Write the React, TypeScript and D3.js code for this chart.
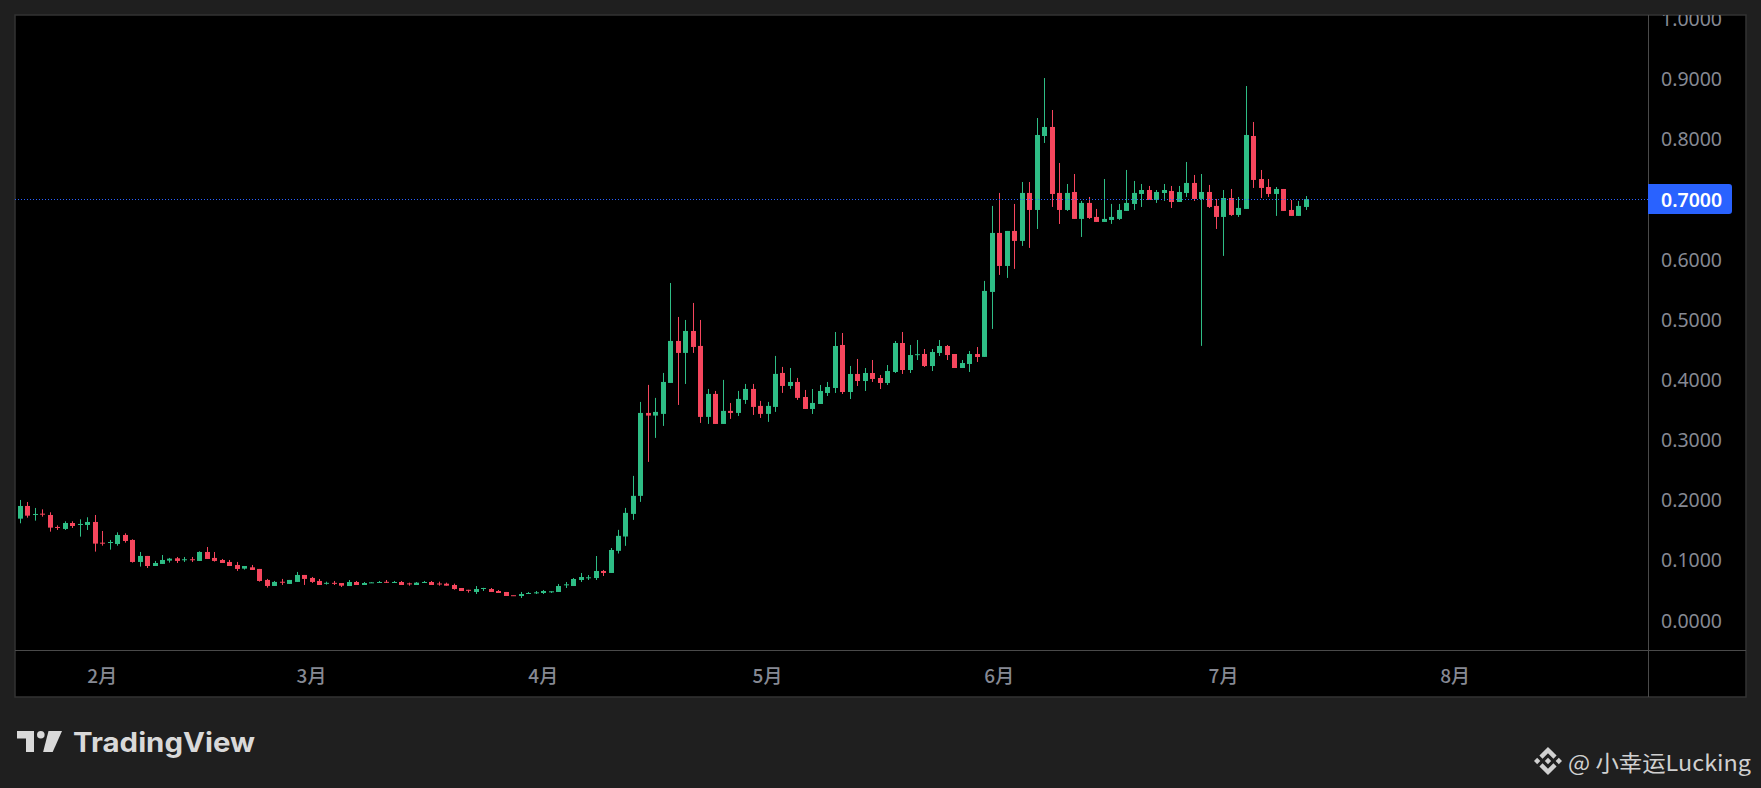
import React from "react";
import * as d3 from "d3";

// daily candles, first bar 2025-01-21
const opens = [
  0.1685, 0.1896, 0.1757, 0.1768, 0.1746, 0.1547, 0.1514, 0.1613, 0.158, 0.158,
  0.163, 0.1286, 0.1286, 0.1264, 0.1414, 0.1331, 0.0965, 0.1065, 0.0898, 0.0932,
  0.0987, 0.1026, 0.1006, 0.101, 0.0982, 0.1131, 0.1032, 0.0998, 0.0965, 0.0915,
  0.0854, 0.0876, 0.0849, 0.0666, 0.0566, 0.0636, 0.06, 0.0633, 0.0749, 0.0699,
  0.0649, 0.0612, 0.0618, 0.0615, 0.0565, 0.0632, 0.0582, 0.062, 0.0626, 0.0635,
  0.0626, 0.0632, 0.0609, 0.0582, 0.0626, 0.0632, 0.0607, 0.0604, 0.0582, 0.0532,
  0.0502, 0.0466, 0.053, 0.0515, 0.0482, 0.0466, 0.0412, 0.0399, 0.0446, 0.0455,
  0.0449, 0.0475, 0.0466, 0.059, 0.0565, 0.0665, 0.0706, 0.0698, 0.0815, 0.0782,
  0.115, 0.1388, 0.1764, 0.2064, 0.3443, 0.3399, 0.3427, 0.3942, 0.464, 0.4441,
  0.4806, 0.4557, 0.3377, 0.3759, 0.326, 0.3477, 0.3443, 0.3659, 0.3842, 0.356,
  0.3427, 0.3543, 0.4108, 0.3892, 0.3958, 0.3708, 0.3509, 0.3592, 0.3775, 0.3858,
  0.4573, 0.3791, 0.4091, 0.3974, 0.4107, 0.4024, 0.3941, 0.4124, 0.4606, 0.4157,
  0.4414, 0.4423, 0.4223, 0.444, 0.4556, 0.4423, 0.419, 0.4257, 0.4423, 0.4375,
  0.5455, 0.6436, 0.5887, 0.6469, 0.6303, 0.7101, 0.6818, 0.8048, 0.8198, 0.7101,
  0.6818, 0.7117, 0.6669, 0.6935, 0.6702, 0.6619, 0.6652, 0.6669, 0.6802, 0.6918,
  0.7084, 0.715, 0.6984, 0.71, 0.7134, 0.6951, 0.71, 0.7267, 0.7001, 0.7117,
  0.6885, 0.6702, 0.7017, 0.6735, 0.6835, 0.8048, 0.7333, 0.72, 0.7084, 0.7167,
  0.6818, 0.6719, 0.6868,
];
const highs = [
  0.1996, 0.1962, 0.1863, 0.184, 0.1791, 0.1574, 0.1641, 0.1641, 0.1674, 0.1708,
  0.1746, 0.148, 0.1331, 0.1458, 0.1441, 0.1342, 0.1131, 0.1065, 0.0982, 0.1081,
  0.1032, 0.1048, 0.1048, 0.1048, 0.1142, 0.1214, 0.1131, 0.1015, 0.0998, 0.0965,
  0.0898, 0.0915, 0.0849, 0.0683, 0.0649, 0.0683, 0.0666, 0.0799, 0.0749, 0.0716,
  0.0682, 0.0637, 0.0649, 0.0615, 0.0665, 0.0649, 0.0632, 0.063, 0.0649, 0.0665,
  0.0649, 0.0649, 0.0621, 0.0632, 0.0649, 0.0649, 0.0637, 0.0621, 0.0604, 0.0532,
  0.0502, 0.0565, 0.0535, 0.0532, 0.0499, 0.0466, 0.0412, 0.0466, 0.0466, 0.0482,
  0.0499, 0.0477, 0.0599, 0.0632, 0.0698, 0.0782, 0.0748, 0.1064, 0.0832, 0.1197,
  0.1499, 0.1864, 0.2396, 0.3626, 0.3909, 0.3693, 0.4108, 0.5604, 0.5039, 0.4989,
  0.5272, 0.4989, 0.3842, 0.3809, 0.3992, 0.3609, 0.3809, 0.3925, 0.3925, 0.3643,
  0.3626, 0.4391, 0.4208, 0.4191, 0.4025, 0.3825, 0.3841, 0.3908, 0.3958, 0.4789,
  0.4772, 0.4224, 0.434, 0.419, 0.4323, 0.4074, 0.424, 0.4639, 0.4789, 0.4573,
  0.4656, 0.4506, 0.4506, 0.4656, 0.4573, 0.4423, 0.4323, 0.4473, 0.4539, 0.5638,
  0.6885, 0.7101, 0.6469, 0.6918, 0.7283, 0.7283, 0.8347, 0.9012, 0.848, 0.7599,
  0.725, 0.7416, 0.6968, 0.7034, 0.6835, 0.7333, 0.6918, 0.6918, 0.7483, 0.73,
  0.725, 0.7217, 0.715, 0.725, 0.7217, 0.7217, 0.7616, 0.74, 0.7416, 0.7234,
  0.7001, 0.715, 0.7167, 0.7034, 0.8879, 0.8281, 0.7483, 0.7333, 0.72, 0.7167,
  0.6984, 0.6968, 0.705,
];
const lows = [
  0.1608, 0.1702, 0.1652, 0.1718, 0.1469, 0.1497, 0.1497, 0.153, 0.1386, 0.1497,
  0.1137, 0.1236, 0.117, 0.1236, 0.1286, 0.0954, 0.0888, 0.0865, 0.0898, 0.0932,
  0.0954, 0.0948, 0.0965, 0.0965, 0.0982, 0.1015, 0.0971, 0.0948, 0.0898, 0.0816,
  0.0838, 0.0832, 0.0638, 0.0539, 0.0566, 0.0583, 0.06, 0.0633, 0.0583, 0.0616,
  0.0582, 0.0588, 0.0582, 0.0549, 0.0565, 0.0582, 0.0582, 0.0618, 0.0615, 0.0615,
  0.0615, 0.0582, 0.0571, 0.0582, 0.0615, 0.0582, 0.0571, 0.0571, 0.0504, 0.0482,
  0.0455, 0.0432, 0.0482, 0.0466, 0.0449, 0.0399, 0.0408, 0.0366, 0.0432, 0.0432,
  0.0432, 0.0449, 0.0466, 0.0532, 0.0565, 0.0632, 0.0665, 0.0665, 0.0732, 0.0782,
  0.1106, 0.1233, 0.1665, 0.1964, 0.2629, 0.3028, 0.3227, 0.3942, 0.3576, 0.3925,
  0.4441, 0.3277, 0.326, 0.326, 0.326, 0.3344, 0.3393, 0.3593, 0.341, 0.336,
  0.3294, 0.346, 0.3776, 0.3842, 0.366, 0.3509, 0.3426, 0.3592, 0.3725, 0.3775,
  0.3758, 0.3675, 0.3891, 0.3808, 0.3958, 0.3841, 0.3908, 0.4107, 0.4091, 0.4107,
  0.4323, 0.4207, 0.414, 0.439, 0.4323, 0.419, 0.419, 0.4124, 0.429, 0.4375,
  0.484, 0.5738, 0.5688, 0.5838, 0.622, 0.6187, 0.6502, 0.7932, 0.6868, 0.6585,
  0.6802, 0.6669, 0.6369, 0.6669, 0.6619, 0.6619, 0.6586, 0.6652, 0.6802, 0.6818,
  0.6868, 0.6984, 0.6935, 0.6968, 0.6851, 0.6951, 0.7034, 0.6968, 0.4558, 0.6851,
  0.6502, 0.6054, 0.6719, 0.6702, 0.6835, 0.7184, 0.7017, 0.7034, 0.6719, 0.6802,
  0.6719, 0.6719, 0.6818,
];
const closes = [
  0.1896, 0.1735, 0.1763, 0.176, 0.1536, 0.1541, 0.1613, 0.1563, 0.1597, 0.163,
  0.127, 0.1281, 0.1297, 0.1414, 0.1314, 0.0965, 0.1065, 0.0898, 0.0948, 0.0998,
  0.102, 0.0982, 0.101, 0.1006, 0.1131, 0.1015, 0.0982, 0.0948, 0.0898, 0.0849,
  0.0898, 0.0832, 0.0649, 0.0566, 0.0633, 0.063, 0.0666, 0.0749, 0.0683, 0.0633,
  0.0582, 0.0618, 0.0612, 0.0571, 0.0632, 0.0582, 0.0615, 0.0626, 0.0632, 0.0629,
  0.0632, 0.0582, 0.0604, 0.0621, 0.0632, 0.0582, 0.0604, 0.0571, 0.0515, 0.0482,
  0.0499, 0.0515, 0.0532, 0.0466, 0.0449, 0.0399, 0.0408, 0.0432, 0.0449, 0.046,
  0.0482, 0.0477, 0.0565, 0.0593, 0.0682, 0.0715, 0.071, 0.0815, 0.0782, 0.1164,
  0.1399, 0.1781, 0.2064, 0.3443, 0.3399, 0.346, 0.3958, 0.464, 0.4441, 0.4806,
  0.454, 0.3377, 0.3759, 0.326, 0.3477, 0.3443, 0.3676, 0.3842, 0.3543, 0.3427,
  0.356, 0.4092, 0.3892, 0.3958, 0.3693, 0.3509, 0.3609, 0.3808, 0.3874, 0.4556,
  0.3791, 0.4091, 0.3974, 0.4107, 0.4008, 0.3941, 0.414, 0.4606, 0.4157, 0.4406,
  0.442, 0.4223, 0.4456, 0.4556, 0.4406, 0.419, 0.4273, 0.4423, 0.4373, 0.5472,
  0.6436, 0.5887, 0.6469, 0.6303, 0.7101, 0.6818, 0.8065, 0.8198, 0.7084, 0.6818,
  0.7101, 0.6669, 0.6935, 0.6685, 0.6619, 0.6669, 0.6702, 0.6818, 0.6935, 0.7101,
  0.715, 0.6984, 0.7117, 0.715, 0.6951, 0.7117, 0.7267, 0.7001, 0.7117, 0.6868,
  0.6702, 0.7017, 0.6735, 0.6852, 0.8065, 0.7317, 0.7184, 0.7084, 0.7167, 0.6802,
  0.6719, 0.6885, 0.7,
];

const priceTicks = [0, 0.1, 0.2, 0.3, 0.4, 0.5, 0.6, 0.7, 0.8, 0.9, 1.0];
const monthLabels = ["2月", "3月", "4月", "5月", "6月", "7月", "8月"];

const W = 1761;
const H = 788;
const frameL = 15;
const frameT = 15;
const frameR = 1746;
const frameB = 697;
const axisX = 1648; // price scale divider
const timeY = 650; // time scale divider

const UP = "#2ebd85";
const DOWN = "#f6465d";

const startDate = new Date(Date.UTC(2025, 0, 21));
const endDate = new Date(Date.UTC(2025, 7, 1));

const App: React.FC = () => {
  const x = d3
    .scaleUtc()
    .domain([startDate, endDate])
    .range([20, 20 + d3.utcDay.count(startDate, endDate) * 7.475]);
  const y = d3.scaleLinear().domain([0, 1]).range([620, 18.6]);
  const fmt = d3.format(".4f");

  const candles = opens.map((o, i) => ({
    date: d3.utcDay.offset(startDate, i),
    o,
    h: highs[i],
    l: lows[i],
    c: closes[i],
  }));
  const monthTicks = d3.utcMonth.range(
    new Date(Date.UTC(2025, 1, 1)),
    new Date(Date.UTC(2025, 8, 1))
  );
  const last = closes[closes.length - 1];
  const bodyW = 5;

  return (
    <svg
      width={W}
      height={H}
      style={{ position: "absolute", left: 0, top: 0, display: "block" }}
    >
      <defs>
        <clipPath id="plot">
          <rect x={frameL} y={frameT} width={axisX - frameL} height={timeY - frameT} />
        </clipPath>
        <clipPath id="pscale">
          <rect x={axisX} y={frameT} width={frameR - axisX} height={timeY - frameT} />
        </clipPath>
      </defs>
      <rect width={W} height={H} fill="#1f1f1f" />
      <rect
        x={frameL}
        y={frameT}
        width={frameR - frameL}
        height={frameB - frameT}
        fill="#000"
        stroke="#333"
        strokeWidth={1.5}
      />

      {/* candles */}
      <g clipPath="url(#plot)">
        {candles.map((d, i) => {
          const cx = Math.round(x(d.date)) + 0.5;
          const col = d.c >= d.o ? UP : DOWN;
          const top = y(Math.max(d.o, d.c));
          const bot = y(Math.min(d.o, d.c));
          return (
            <g key={i}>
              <line x1={cx} x2={cx} y1={y(d.h)} y2={y(d.l)} stroke={col} strokeWidth={1} />
              <rect
                x={cx - bodyW / 2}
                y={top}
                width={bodyW}
                height={Math.max(1, bot - top)}
                fill={col}
              />
            </g>
          );
        })}
        <line
          x1={frameL}
          x2={axisX}
          y1={Math.round(y(last)) + 0.5}
          y2={Math.round(y(last)) + 0.5}
          stroke="#2962ff"
          strokeWidth={1}
          strokeDasharray="1 2"
        />
      </g>

      {/* scale dividers */}
      <line x1={axisX + 0.5} x2={axisX + 0.5} y1={frameT} y2={frameB} stroke="#4a4a4a" />
      <line x1={frameL} x2={frameR} y1={timeY + 0.5} y2={timeY + 0.5} stroke="#4a4a4a" />

      {/* price scale */}
      <g clipPath="url(#pscale)" style={{ fontFamily: "'Noto Sans', sans-serif", fontSize: 19.5 }}>
        {priceTicks.map((t) => (
          <text key={t} x={1661} y={y(t)} dominantBaseline="central" fill="#868993">
            {fmt(t)}
          </text>
        ))}
        <path
          d={`M${axisX},${y(last) - 15}h81a3,3 0 0 1 3,3v24a3,3 0 0 1 -3,3h-81z`}
          fill="#2962ff"
        />
        <text
          x={1661}
          y={y(last)}
          dominantBaseline="central"
          fill="#fff"
          fontWeight={600}
        >
          {fmt(last)}
        </text>
      </g>

      {/* time scale */}
      <g style={{ fontFamily: "'Noto Sans CJK SC', 'Noto Sans', sans-serif", fontSize: 19 }}>
        {monthTicks.map((m, i) => (
          <text
            key={i}
            x={x(m)}
            y={674}
            textAnchor="middle"
            dominantBaseline="central"
            fill="#868993"
            fontWeight={500}
          >
            {monthLabels[i]}
          </text>
        ))}
      </g>

      {/* TradingView logo */}
      <g fill="#d9d9d9">
        <path d="M17,731h17v21h-8v-13.5h-9z" />
        <circle cx={40.8} cy={734.8} r={3.8} />
        <path d="M48.5,731h13.5l-9.3,21h-9.6z" />
        <text
          x={73}
          y={752}
          fontSize={27}
          fontWeight={700}
          textLength={182}
          lengthAdjust="spacingAndGlyphs"
          style={{ fontFamily: "Inter, 'Noto Sans', sans-serif" }}
        >
          TradingView
        </text>
      </g>

      {/* watermark */}
      <g transform="translate(1534,747) scale(0.221)" fill="#d0d0d0">
        <path d="M38.73,53.2L63.3,28.64l24.59,24.59l14.3,-14.3L63.3,0L24.43,38.9Z" />
        <path d="M0,63.31L14.3,49L28.6,63.31L14.3,77.61Z" />
        <path d="M38.73,73.41L63.3,98l24.59,-24.59l14.31,14.29L63.3,126.61L24.43,87.73Z" />
        <path d="M98,63.31L112.3,49L126.6,63.31L112.3,77.61Z" />
        <path d="M77.83,63.3L63.3,48.76L48.77,63.28L63.3,77.81Z" />
      </g>
      <text
        x={1568}
        y={761}
        dominantBaseline="central"
        fill="#d0d0d0"
        fontSize={22}
        textLength={183}
        lengthAdjust="spacingAndGlyphs"
        style={{ fontFamily: "'Noto Sans CJK SC', sans-serif" }}
      >
        @ 小幸运Lucking
      </text>
    </svg>
  );
};

export default App;
